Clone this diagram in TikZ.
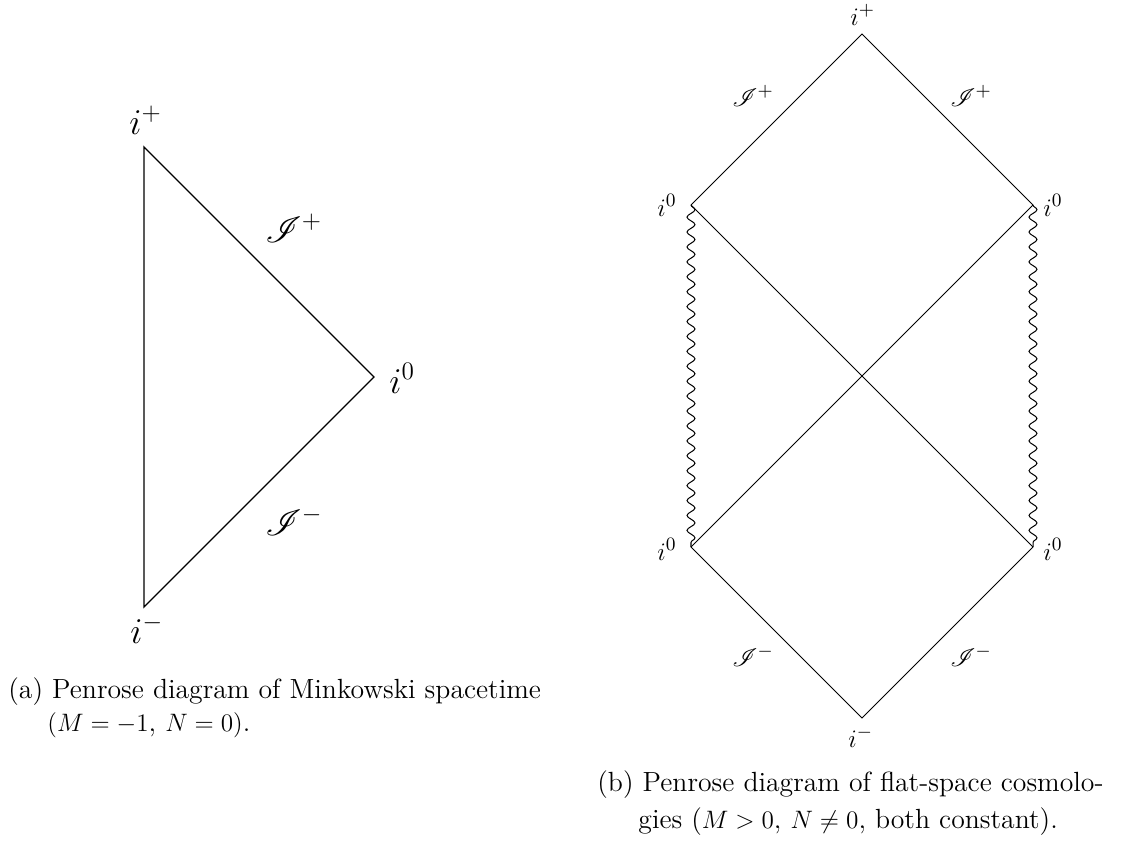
\documentclass[tikz,border=0pt]{standalone}
\usepackage{mathrsfs}
\usetikzlibrary{decorations.pathmorphing}
\tikzset{
  bigline/.style={line width=0.65pt},
  smallline/.style={line width=0.48pt},
  wavy/.style={line width=0.48pt, decorate, decoration={snake, segment length=7.1pt, amplitude=1.9pt}},
  biglab/.style={inner sep=0pt, anchor=base west, font=\fontsize{17.6}{20}\selectfont},
  lab/.style={inner sep=0pt, anchor=base west, font=\fontsize{12.5}{15}\selectfont},
  captext/.style={inner sep=0pt, anchor=base west, font=\fontsize{13.2}{15.8}\selectfont}
}
\begin{document}
\begin{tikzpicture}[x=0.476pt,y=-0.476pt]
\useasboundingbox (0,0) rectangle (1146,845);
% ---- (a) Minkowski
\coordinate (Lt) at (144,147);
\coordinate (Lr) at (374,377);
\coordinate (Lb) at (144,607);
\draw[bigline] (Lt) -- (Lr) -- (Lb) -- cycle;
\node[biglab] (aip) at (129,134) {$i^+$};
\node[biglab] (aIp) at (265,242) {$\mathscr{I}^+$};
\node[biglab] (ai0) at (389,393) {$i^0$};
\node[biglab] (aIm) at (265,535) {$\mathscr{I}^-$};
\node[biglab] (aim) at (130,643) {$i^-$};
\node[captext] (capa1) at (8,698) {(a) Penrose diagram of Minkowski spacetime};
\node[captext] (capa2) at (47,731) {$(M=-1$, $N=0)$.};
% ---- (b) flat-space cosmologies
\coordinate (T) at (862,34);
\coordinate (UL) at (691,205);
\coordinate (UR) at (1033,205);
\coordinate (DL) at (691,547);
\coordinate (DR) at (1033,547);
\coordinate (B) at (862,718);
\draw[smallline] (UL) -- (T) -- (UR);
\draw[smallline] (DL) -- (B) -- (DR);
\draw[smallline] (UL) -- (DR);
\draw[smallline] (DL) -- (UR);
\draw[wavy] (UL) -- (DL);
\draw[wavy] (UR) -- (DR);
\node[lab] (bip) at (850,25) {$i^+$};
\node[lab] (bIpl) at (732,106) {$\mathscr{I}^+$};
\node[lab] (bIpr) at (950,106) {$\mathscr{I}^+$};
\node[lab] (bi0ul) at (657,216) {$i^0$};
\node[lab] (bi0ur) at (1043,216) {$i^0$};
\node[lab] (bi0dl) at (657,560) {$i^0$};
\node[lab] (bi0dr) at (1043,560) {$i^0$};
\node[lab] (bIml) at (732,666) {$\mathscr{I}^-$};
\node[lab] (bImr) at (950,666) {$\mathscr{I}^-$};
\node[lab] (bim) at (848,747) {$i^-$};
\node[captext] (capb1) at (597,791) {(b) Penrose diagram of flat-space cosmolo-};
\node[captext] (capb2) at (638,828) {gies ($M>0$, $N\neq0$, both constant).};
\end{tikzpicture}
\end{document}
